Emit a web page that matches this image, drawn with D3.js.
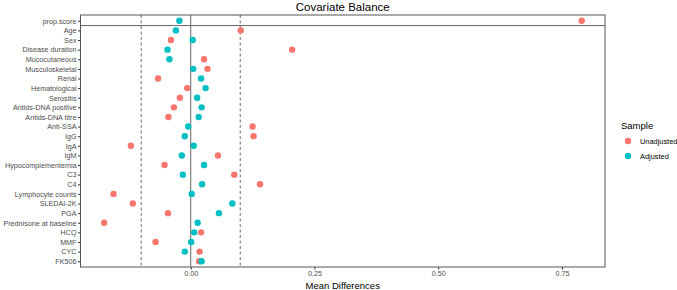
<!DOCTYPE html>
<html>
<head>
<meta charset="utf-8">
<script src="https://cdn.jsdelivr.net/npm/d3@7"></script>
<style>
  body { margin: 0; background: #fff; }
  svg { font-family: "Liberation Sans", Arial, sans-serif; }
</style>
</head>
<body>
<svg id="chart" width="677" height="290"></svg>
<script>
// covariates, top to bottom
const covariates = ["prop.score", "Age", "Sex", "Disease duration", "Mucocutaneous",
    "Musculoskeletal", "Renal", "Hematological", "Serositis", "Antids-DNA positive",
    "Antids-DNA titre", "Anti-SSA", "IgG", "IgA", "IgM", "Hypocomplementemia", "C3", "C4",
    "Lymphocyte counts", "SLEDAI-2K", "PGA", "Prednisone at baseline", "HCQ", "MMF", "CYC", "FK506"];

const unadjusted = [0.790, 0.101, -0.040, 0.205, 0.027, 0.034, -0.066, -0.007, -0.022, -0.034,
    -0.045, 0.125, 0.127, -0.121, 0.055, -0.053, 0.088, 0.140, -0.156, -0.117, -0.046, -0.175,
    0.021, -0.071, 0.018, 0.017];

const adjusted = [-0.023, -0.030, 0.004, -0.047, -0.043, 0.005, 0.021, 0.030, 0.013, 0.022,
    0.016, -0.005, -0.012, 0.006, -0.018, 0.027, -0.016, 0.023, 0.002, 0.084, 0.057, 0.014,
    0.007, 0.001, -0.012, 0.022];

const xTicks = [0, 0.25, 0.5, 0.75];
const thresholds = [-0.1, 0.1];
const sampleNames = ["Unadjusted", "Adjusted"];
const sampleColors = ["#F8766D", "#00BFC4"];

let svg = d3.select("#chart"),
    margin = {top: 15, right: 72, bottom: 23, left: 80.5},
    width = svg.attr("width") - margin.left - margin.right,
    height = svg.attr("height") - margin.top - margin.bottom;

let g = svg.append("g").attr("transform", "translate(" + margin.left + "," + margin.top + ")");

let x = d3.scaleLinear().domain([-0.2227, 0.837]).range([0, width]),
    y = d3.scalePoint().domain(covariates).range([0, height]).padding(0.6);

// reference lines
g.selectAll(".thr")
    .data(thresholds)
    .enter().append("line")
    .attr("x1", d => x(d)).attr("x2", d => x(d))
    .attr("y1", 0).attr("y2", height)
    .attr("stroke", "#444").attr("stroke-width", 0.8)
    .attr("stroke-dasharray", "3,2.5");

g.append("line")
    .attr("x1", x(0)).attr("x2", x(0))
    .attr("y1", 0).attr("y2", height)
    .attr("stroke", "#666").attr("stroke-width", 1);

let sepY = (y("prop.score") + y("Age")) / 2;
g.append("line")
    .attr("x1", 0).attr("x2", width)
    .attr("y1", sepY).attr("y2", sepY)
    .attr("stroke", "#666").attr("stroke-width", 1);

// axes
let xAxis = g.append("g")
    .attr("transform", "translate(0," + height + ")")
    .call(d3.axisBottom(x).tickValues(xTicks).tickFormat(d3.format(".2f")).tickSize(2.5).tickPadding(1.5));

let yAxis = g.append("g")
    .call(d3.axisLeft(y).tickSize(2.5).tickPadding(1.5));

[xAxis, yAxis].forEach(function(a) {
    a.select(".domain").remove();
    a.selectAll(".tick line").attr("stroke", "#333");
    a.selectAll(".tick text").attr("fill", "#4D4D4D").style("font-size", "7.2px");
});

// panel border
g.append("rect")
    .attr("width", width).attr("height", height)
    .attr("fill", "none").attr("stroke", "#555").attr("stroke-width", 1);

// points: unadjusted first, adjusted on top
[unadjusted, adjusted].forEach(function(vals, i) {
    g.append("g").selectAll("circle")
        .data(vals)
        .enter().append("circle")
        .attr("cx", d => x(d))
        .attr("cy", (d, j) => y(covariates[j]))
        .attr("r", 3.2)
        .attr("fill", sampleColors[i]);
});

// titles
svg.append("text")
    .attr("x", margin.left + width / 2).attr("y", 11)
    .attr("text-anchor", "middle")
    .style("font-size", "11.5px")
    .text("Covariate Balance");

svg.append("text")
    .attr("x", margin.left + width / 2).attr("y", 289)
    .attr("text-anchor", "middle")
    .style("font-size", "9.5px")
    .text("Mean Differences");

// legend
let legend = svg.append("g").attr("transform", "translate(621,0)");
legend.append("text")
    .attr("x", 0).attr("y", 129)
    .style("font-size", "9.5px")
    .text("Sample");

let items = legend.selectAll(".item")
    .data(sampleNames)
    .enter().append("g")
    .attr("transform", (d, i) => "translate(0," + (141 + i * 15) + ")");
items.append("circle")
    .attr("cx", 7).attr("cy", 0).attr("r", 3.2)
    .attr("fill", (d, i) => sampleColors[i]);
items.append("text")
    .attr("x", 19).attr("y", 0).attr("dy", "0.35em")
    .style("font-size", "7.4px")
    .text(d => d);
</script>
</body>
</html>
